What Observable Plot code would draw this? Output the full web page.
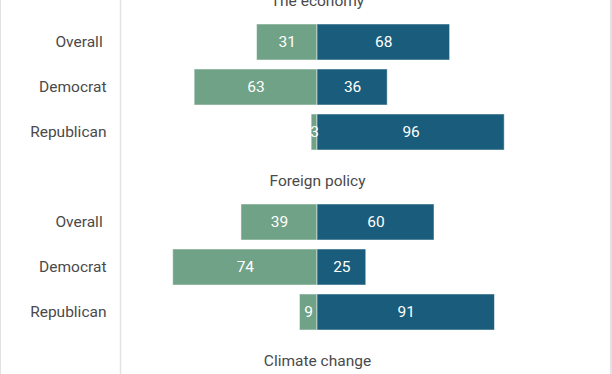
<!DOCTYPE html>
<html><head><meta charset="utf-8">
<script src="https://cdn.jsdelivr.net/npm/d3@7"></script>
<script src="https://cdn.jsdelivr.net/npm/@observablehq/plot@0.6"></script>
<style>
html,body{margin:0;padding:0;background:#fff;overflow:hidden}
#chart{position:relative;width:612px;height:374px;overflow:hidden}
#chart::after{content:"";position:absolute;left:0;top:0;width:612px;height:374px;box-sizing:border-box;border-left:1.5px solid #e2e2e2;border-right:2px solid #e2e2e2;pointer-events:none}
#chart svg{overflow:hidden;display:block}
</style></head><body><div id="chart"></div>
<script>
const topics = ["The economy", "Foreign policy", "Climate change"];
const groups = ["Overall ", "Democrat", "Republican"];
const greenValues = [[31, 63, 3], [39, 74, 9]];
const blueValues = [[68, 36, 96], [60, 25, 91]];

const domain = [];
const titles = [];
const labels = [];
const segs = [];
topics.forEach((t, i) => {
  domain.push(t + "|title");
  titles.push({key: t + "|title", topic: t});
  if (i < greenValues.length) {
    groups.forEach((g, j) => {
      const key = t + "|" + g;
      domain.push(key);
      labels.push({key, group: g});
      segs.push({key, side: "left", x1: -greenValues[i][j], x2: 0, value: greenValues[i][j]});
      segs.push({key, side: "right", x1: 0, x2: blueValues[i][j], value: blueValues[i][j]});
    });
  }
});

const font = "Roboto, 'Noto Sans', sans-serif";
const chart = Plot.plot({
  width: 612,
  height: 374,
  marginLeft: 122,
  marginRight: 100,
  marginTop: 0,
  marginBottom: 0,
  style: {fontFamily: font, fontSize: "15.5px", background: "white"},
  x: {domain: [-100, 100], axis: null},
  y: {type: "band", domain, range: [-25.5, 379.5], paddingInner: 0.2, paddingOuter: 0.1, axis: null},
  color: {domain: ["left", "right"], range: ["#6fa287", "#195c7b"]},
  marks: [
    Plot.ruleX([-100], {dx: -2, stroke: "#e2e2e2", strokeWidth: 1.5}),
    Plot.barX(segs, {x1: "x1", x2: "x2", y: "key", fill: "side", stroke: "white", strokeOpacity: 0.5, strokeWidth: 1}),
    Plot.text(segs, {x: d => (d.x1 + d.x2) / 2, y: "key", text: d => String(d.value), fill: "white", fontSize: 15.5}),
    Plot.text(labels, {y: "key", text: "group", frameAnchor: "left", textAnchor: "end", dx: -16, fill: "#4a4a4a", fontSize: 15.5}),
    Plot.text(titles, {y: "key", text: "topic", frameAnchor: "middle", dy: 4, fill: "#4a4a4a", fontSize: 15.5})
  ]
});
document.getElementById("chart").appendChild(chart);
</script>
</body></html>
